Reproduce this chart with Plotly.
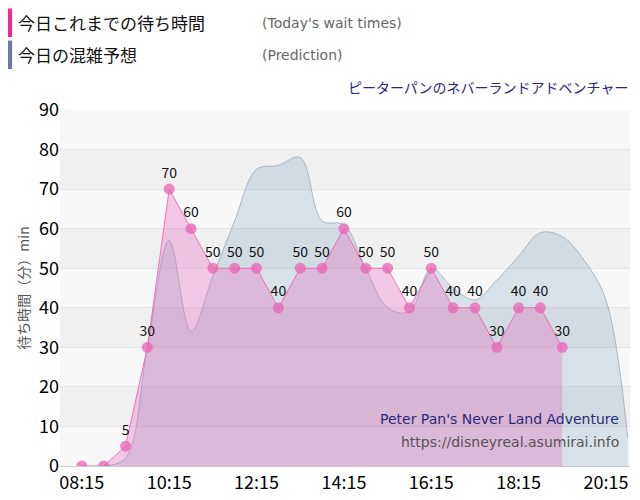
import plotly.graph_objects as go
import pandas as pd

actual_times = pd.date_range("2024-01-01 08:15", "2024-01-01 19:15", freq="30min")
actual_vals = [0,0,5,30,70,60,50,50,50,40,50,50,60,50,50,40,50,40,40,30,40,40,30]
actual_labels = ["","","5","30","70","60","50","50","50","40","50","50","60","50","50","40","50","40","40","30","40","40","30"]

pred_times = pd.date_range("2024-01-01 08:15", "2024-01-01 20:45", freq="30min")
pred_vals = [0,0,2,30,57,34,48,62,75,76,78,62,61,50,40,39,50,45,42,47,53,59,58,52,42,7]

tick_vals = pd.date_range("2024-01-01 08:15", "2024-01-01 20:15", freq="2h")
tick_text = ["08:15","10:15","12:15","14:15","16:15","18:15","20:15"]

fig = go.Figure()
fig.add_trace(go.Scatter(x=pred_times, y=pred_vals, mode="lines", line=dict(shape="spline", color="rgba(130,150,175,0.6)", width=1),
                         fill="tozeroy", fillcolor="rgba(120,155,185,0.25)", hoverinfo="skip"))
fig.add_trace(go.Scatter(x=actual_times, y=actual_vals, mode="lines+markers+text", text=actual_labels, textposition="top center",
                         textfont=dict(size=14, color="#111"),
                         line=dict(color="rgba(236,90,170,0.8)", width=1), fill="tozeroy", fillcolor="rgba(230,110,190,0.35)",
                         marker=dict(size=11, color="rgba(232,100,180,0.75)")))

shapes = []
for i in range(9):
    shapes.append(dict(type="rect", xref="paper", yref="y", x0=0, x1=1, y0=i*10, y1=i*10+10,
                       fillcolor="#f0f0f0" if i % 2 else "#f8f8f8", line_width=0, layer="below"))
shapes += [dict(type="rect", xref="paper", yref="paper", x0=-0.093, x1=-0.084, y0=1.205, y1=1.285, fillcolor="#ee2a8c", line_width=0),
           dict(type="rect", xref="paper", yref="paper", x0=-0.093, x1=-0.084, y0=1.115, y1=1.195, fillcolor="#6a7aa0", line_width=0)]

fig.update_layout(
    width=640, height=500, margin=dict(l=52, r=18, t=102, b=42),
    paper_bgcolor="white", plot_bgcolor="#f8f8f8", showlegend=False, shapes=shapes,
    font=dict(family="Noto Sans CJK JP"),
    xaxis=dict(range=["2024-01-01 07:45", "2024-01-01 20:48"], tickvals=tick_vals, ticktext=tick_text,
               tickfont=dict(size=18, color="#000"), showgrid=False, zeroline=False, showline=True, linecolor="#ccc"),
    yaxis=dict(range=[0, 90], dtick=10, tickfont=dict(size=18, color="#000"), showgrid=True, gridcolor="#e4e4e4",
               zeroline=False, title=dict(text="待ち時間（分）min", font=dict(size=14, color="#555"), standoff=6)),
    annotations=[
        dict(text="今日これまでの待ち時間", xref="paper", yref="paper", x=-0.078, y=1.245, xanchor="left", yanchor="middle", showarrow=False, font=dict(size=17, color="#111")),
        dict(text="(Today's wait times)", xref="paper", yref="paper", x=0.35, y=1.245, xanchor="left", yanchor="middle", showarrow=False, font=dict(size=14, color="#666", family="Verdana, DejaVu Sans")),
        dict(text="今日の混雑予想", xref="paper", yref="paper", x=-0.078, y=1.155, xanchor="left", yanchor="middle", showarrow=False, font=dict(size=17, color="#111")),
        dict(text="(Prediction)", xref="paper", yref="paper", x=0.35, y=1.155, xanchor="left", yanchor="middle", showarrow=False, font=dict(size=14, color="#666", family="Verdana, DejaVu Sans")),
        dict(text="ピーターパンのネバーランドアドベンチャー", xref="paper", yref="paper", x=1.0, y=1.065, xanchor="right", yanchor="middle", showarrow=False, font=dict(size=14, color="#2a2a7a")),
        dict(text="Peter Pan's Never Land Adventure", xref="paper", yref="paper", x=0.985, y=0.105, xanchor="right", showarrow=False, font=dict(size=14, color="#2a2a7a", family="Verdana, DejaVu Sans")),
        dict(text="https://disneyreal.asumirai.info", xref="paper", yref="paper", x=0.985, y=0.04, xanchor="right", showarrow=False, font=dict(size=14, color="#555", family="Verdana, DejaVu Sans")),
    ],
)
fig.write_html("out.html")
